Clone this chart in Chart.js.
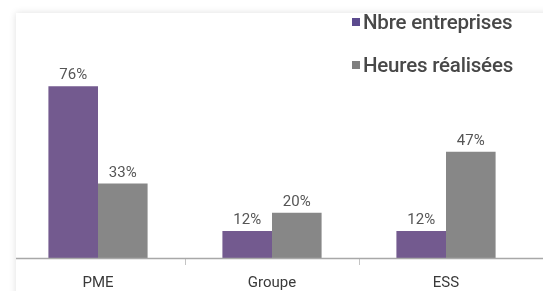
<!DOCTYPE html>
<html>
<head>
<meta charset="utf-8">
<script src="https://cdn.jsdelivr.net/npm/chart.js@4"></script>
<style>
    html, body { margin: 0; padding: 0; background: #fff; }
    #wrap { position: relative; width: 543px; height: 291px; overflow: hidden; }
    #card {
        position: absolute; left: 16px; top: 13px; width: 600px; height: 400px;
        background: #fff; box-shadow: 0 0 7px rgba(0,0,0,0.13);
    }
    #chart { position: absolute; left: 0; top: 0; }
    .legend { position: absolute; left: 352px; font-family: Roboto, sans-serif; font-size: 20.5px; font-weight: 500; color: #484848; letter-spacing: -0.2px; }
    .legend span { display: inline-block; width: 8px; height: 8px; margin-right: 3px; vertical-align: 3px; }
</style>
</head>
<body>
<div id="wrap">
    <div id="card"></div>
    <canvas id="chart" width="543" height="291"></canvas>
    <div class="legend" style="top:10px"><span style="background:#5b4a8e"></span>Nbre entreprises</div>
    <div class="legend" style="top:53px"><span style="background:#7f7f7f"></span>Heures réalisées</div>
</div>
<script>
    // --- Data ---
    const categories = ['PME', 'Groupe', 'ESS'];
    const entreprises = [76, 12, 12];
    const heures = [33, 20, 47];
    const seriesNames = ['Nbre entreprises', 'Heures réalisées'];

    // --- Value labels above the bars + axis line starting at the card edge ---
    const valueLabels = {
        id: 'valueLabels',
        afterDatasetsDraw(chart) {
            const ctx = chart.ctx;
            const area = chart.chartArea;
            ctx.save();
            ctx.strokeStyle = '#a8a8a8';
            ctx.lineWidth = 1.5;
            ctx.beginPath();
            ctx.moveTo(16, area.bottom + 0.5);
            ctx.lineTo(543, area.bottom + 0.5);
            ctx.stroke();

            ctx.font = '15px Roboto, sans-serif';
            ctx.fillStyle = '#555';
            ctx.textAlign = 'center';
            ctx.textBaseline = 'bottom';
            chart.data.datasets.forEach((ds, i) => {
                chart.getDatasetMeta(i).data.forEach((bar, j) => {
                    ctx.fillText(ds.data[j] + '%', bar.x, bar.y - 3);
                });
            });
            ctx.restore();
        }
    };

    new Chart(document.getElementById('chart'), {
        type: 'bar',
        data: {
            labels: categories,
            datasets: [
                { label: seriesNames[0], data: entreprises, backgroundColor: '#735a8f' },
                { label: seriesNames[1], data: heures, backgroundColor: '#878787' }
            ]
        },
        options: {
            responsive: false,
            animation: false,
            events: [],
            layout: { padding: { left: 11, right: 10, top: 32, bottom: 0 } },
            datasets: { bar: { barPercentage: 1, categoryPercentage: 0.57 } },
            scales: {
                x: {
                    afterFit: (scale) => { scale.height = 33; },
                    grid: {
                        display: true, drawOnChartArea: false, offset: true, tickLength: 7,
                        // only the separators between categories, not the outer edges
                        color: (c) => (c.type !== 'tick' || c.index === 0) ? 'rgba(0,0,0,0)' : '#c4c4c4'
                    },
                    border: { display: false },
                    ticks: { color: '#3a3a3a', font: { family: 'Roboto, sans-serif', size: 15 }, padding: 9 }
                },
                y: { display: false, min: 0, max: 100 }
            },
            plugins: { legend: { display: false }, tooltip: { enabled: false } }
        },
        plugins: [valueLabels]
    });
</script>
</body>
</html>
